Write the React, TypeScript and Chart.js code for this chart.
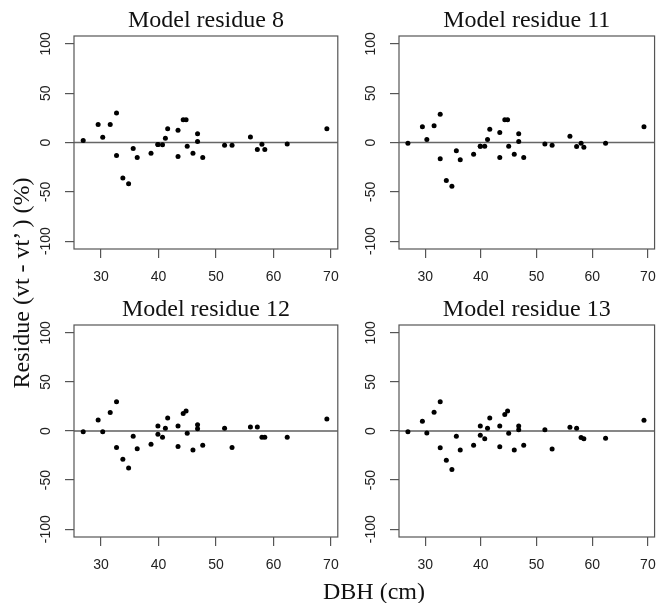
import React, { useEffect, useRef } from "react";
import { Chart, registerables } from "chart.js";

Chart.register(...registerables);

// Diameter at breast height (cm), shared by all four panels
const DBH = [
  26.9, 29.5, 30.3, 31.6, 32.7, 32.7, 33.8, 34.8, 35.6, 36.3, 38.7, 39.9, 39.9,
  40.7, 41.2, 41.6, 43.4, 43.4, 44.3, 44.8, 45.0, 46.0, 46.8, 46.8, 47.7, 51.5,
  52.8, 56.0, 57.2, 58.0, 58.5, 62.4, 69.3,
];

// Residues (%) per model
const RESIDUE_8 = [
  2.0, 18.2, 5.4, 18.2, 30, -13.2, -36.1, -41.9, -6.1, -15.2, -10.8, -2.0, -2.0,
  -2.4, 4.4, 13.9, 12.5, -14.2, 23, 23, -3.7, -10.8, 8.8, 1.0, -15.2, -2.7,
  -2.7, 5.7, -7.1, -1.7, -7.1, -1.4, 13.9,
];
const RESIDUE_11 = [
  -0.7, 15.9, 3.0, 16.9, 28.7, -16.6, -38.5, -44.3, -8.4, -17.6, -11.8, -3.7,
  -3.7, -3.7, 3.0, 13.5, 10.1, -15.2, 23, 23, -3.7, -11.8, 8.8, 1.0, -15.2,
  -1.4, -2.7, 6.4, -4.1, -0.7, -4.7, -0.7, 15.9,
];
const RESIDUE_12 = [
  -0.7, 11.1, -0.7, 18.9, 29.7, -16.9, -28.7, -37.8, -5.4, -18.2, -13.5, 5.1,
  -3.4, -6.4, 2.7, 13.2, 5.1, -15.9, 17.9, 20.3, -2.4, -19.3, 6.4, 2.4, -14.5,
  2.7, -16.9, 4.1, 4.1, -6.4, -6.4, -6.4, 12.2,
];
const RESIDUE_13 = [
  -0.7, 9.9, -2.0, 19.0, 29.9, -17.0, -29.9, -39.1, -5.4, -19.4, -14.6, 5.1,
  -4.4, -7.8, 2.7, 13.3, 5.1, -16.0, 16.7, 20.4, -2.4, -19.4, 5.1, 1.4, -14.6,
  1.4, -18.4, 3.7, 2.7, -6.5, -7.8, -7.5, 10.9,
];

const PANEL_TITLES = [
  "Model residue 8",
  "Model residue 11",
  "Model residue 12",
  "Model residue 13",
];
const X_TICKS = [30, 40, 50, 60, 70];
const Y_TICKS = [-100, -50, 0, 50, 100];
const X_LIMITS = [25.3, 71.2];
const Y_LIMITS = [-108, 108];
const Y_AXIS_TITLE = "Residue (vt - vt\u2019 ) (%)";
const X_AXIS_TITLE = "DBH (cm)";

type Geo = { left: number; top: number; width: number; height: number };
type Box = { l: number; t: number; r: number; b: number };

const boxPlugin = {
  id: "rbox",
  afterDatasetsDraw(chart: any) {
    const { ctx, chartArea: a } = chart;
    ctx.save();
    ctx.strokeStyle = "#555";
    ctx.lineWidth = 1.2;
    ctx.strokeRect(a.left, a.top, a.right - a.left, a.bottom - a.top);
    ctx.restore();
  },
};

function Panel(props: {
  values: number[];
  title: string;
  geo: Geo;
  box: Box;
  zeroColor: string;
  zeroWidth: number;
}) {
  const ref = useRef<HTMLCanvasElement | null>(null);
  const { values, title, geo, box, zeroColor, zeroWidth } = props;

  useEffect(() => {
    if (!ref.current) return;
    const yAxisWidth = box.l - geo.left;
    const titleHeight = box.t - geo.top;
    const rightPad = geo.left + geo.width - box.r;
    const xAxisHeight = geo.top + geo.height - box.b;
    const titleSize = 24;
    const titleLine = titleSize * 1.2;
    const padBottom = 1;
    const padTop = titleHeight - titleLine - padBottom;

    const points = DBH.map((x, i) => ({ x, y: values[i] }));
    const tickFont = { family: "'Liberation Sans', Arial, sans-serif", size: 14 };

    const chart = new Chart(ref.current, {
      type: "scatter",
      data: {
        datasets: [
          {
            type: "scatter",
            data: points,
            pointRadius: 2.5,
            pointHoverRadius: 2.5,
            pointBackgroundColor: "#000",
            pointBorderWidth: 0,
            order: 1,
          } as any,
          {
            type: "line",
            data: [
              { x: 0, y: 0 },
              { x: 100, y: 0 },
            ],
            borderColor: zeroColor,
            borderWidth: zeroWidth,
            pointRadius: 0,
            order: 2,
          } as any,
        ],
      },
      options: {
        animation: false,
        responsive: false,
        events: [],
        layout: { padding: { top: 0, left: 0, right: rightPad, bottom: 0 } },
        plugins: {
          legend: { display: false },
          tooltip: { enabled: false },
          title: {
            display: true,
            text: title,
            fullSize: false,
            color: "#111",
            font: {
              family: "'Liberation Serif', 'Times New Roman', serif",
              size: titleSize,
              weight: "normal",
              lineHeight: 1.2,
            },
            padding: { top: padTop, bottom: padBottom },
          },
        },
        scales: {
          x: {
            type: "linear",
            min: X_LIMITS[0],
            max: X_LIMITS[1],
            afterBuildTicks: (axis: any) => {
              axis.ticks = X_TICKS.map((v) => ({ value: v }));
            },
            afterFit: (axis: any) => {
              axis.height = xAxisHeight;
            },
            grid: {
              display: true,
              drawOnChartArea: false,
              drawTicks: true,
              tickLength: 9,
              color: "#555",
              lineWidth: 1.2,
            },
            border: { display: false },
            ticks: {
              font: tickFont,
              color: "#222",
              padding: 11,
              maxRotation: 0,
              minRotation: 0,
              autoSkip: false,
              callback: (v: any) => String(v),
            },
          },
          y: {
            type: "linear",
            min: Y_LIMITS[0],
            max: Y_LIMITS[1],
            afterBuildTicks: (axis: any) => {
              axis.ticks = Y_TICKS.map((v) => ({ value: v }));
            },
            afterFit: (axis: any) => {
              axis.width = yAxisWidth;
            },
            grid: {
              display: true,
              drawOnChartArea: false,
              drawTicks: true,
              tickLength: 9,
              color: "#555",
              lineWidth: 1.2,
            },
            border: { display: false },
            ticks: {
              font: tickFont,
              color: "#222",
              padding: 5,
              minRotation: 90,
              maxRotation: 90,
              crossAlign: "center",
              autoSkip: false,
              callback: (v: any) => String(v),
            },
          },
        },
      } as any,
      plugins: [boxPlugin],
    });
    return () => chart.destroy();
  }, [values, title, geo, box, zeroColor, zeroWidth]);

  return (
    <canvas
      ref={ref}
      width={geo.width}
      height={geo.height}
      style={{
        position: "absolute",
        left: geo.left,
        top: geo.top,
        width: geo.width,
        height: geo.height,
      }}
    />
  );
}

const PANELS = [
  {
    values: RESIDUE_8,
    title: PANEL_TITLES[0],
    geo: { left: 0, top: 0, width: 350, height: 290 },
    box: { l: 74, t: 36, r: 342, b: 249 },
    zeroColor: "#666",
    zeroWidth: 1.6,
  },
  {
    values: RESIDUE_11,
    title: PANEL_TITLES[1],
    geo: { left: 350, top: 0, width: 317, height: 290 },
    box: { l: 399, t: 36, r: 666, b: 249 },
    zeroColor: "#666",
    zeroWidth: 1.6,
  },
  {
    values: RESIDUE_12,
    title: PANEL_TITLES[2],
    geo: { left: 0, top: 290, width: 350, height: 313 },
    box: { l: 74, t: 325, r: 342, b: 537 },
    zeroColor: "#111",
    zeroWidth: 1.1,
  },
  {
    values: RESIDUE_13,
    title: PANEL_TITLES[3],
    geo: { left: 350, top: 290, width: 317, height: 313 },
    box: { l: 399, t: 325, r: 666, b: 537 },
    zeroColor: "#111",
    zeroWidth: 1.1,
  },
];

export default function App() {
  const serif = "'Liberation Serif', 'Times New Roman', serif";
  return (
    <div
      style={{
        position: "absolute",
        left: 0,
        top: 0,
        width: 667,
        height: 603,
        overflow: "hidden",
        background: "#fff",
      }}
    >
      {PANELS.map((p, i) => (
        <Panel key={i} {...p} />
      ))}
      <div
        style={{
          position: "absolute",
          left: 21 - 200,
          top: 283 - 15,
          width: 400,
          height: 30,
          lineHeight: "30px",
          textAlign: "center",
          fontFamily: serif,
          fontSize: 24,
          color: "#111",
          transform: "rotate(-90deg)",
          whiteSpace: "nowrap",
        }}
      >
        {Y_AXIS_TITLE}
      </div>
      <div
        style={{
          position: "absolute",
          left: 374 - 100,
          top: 591 - 15,
          width: 200,
          height: 30,
          lineHeight: "30px",
          textAlign: "center",
          fontFamily: serif,
          fontSize: 24,
          color: "#111",
          whiteSpace: "nowrap",
        }}
      >
        {X_AXIS_TITLE}
      </div>
    </div>
  );
}
